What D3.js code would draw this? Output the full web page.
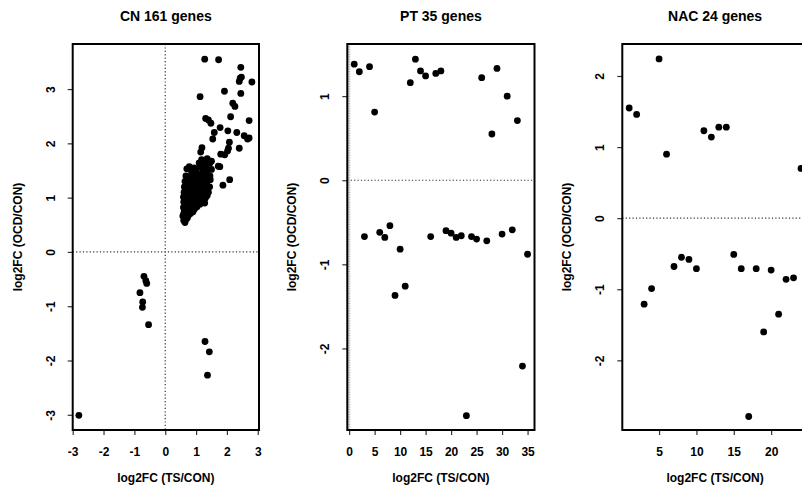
<!DOCTYPE html>
<html>
<head>
<meta charset="utf-8">
<script src="https://cdn.jsdelivr.net/npm/d3@7"></script>
<style>
  body { margin: 0; background: #fff; }
  text { font-family: "Liberation Sans", Arial, sans-serif; font-weight: bold; fill: #000; }
</style>
</head>
<body>
<script>
// CN: [log2FC TS/CON, log2FC OCD/CON]
var cnPoints = [
  [1.28,3.55],[1.73,3.54],[2.45,3.40],[2.43,3.20],[2.47,3.22],[2.40,3.14],[2.81,3.13],
  [1.92,2.96],[2.45,2.92],[1.13,2.86],[2.19,2.74],[2.26,2.68],[2.12,2.49],[2.72,2.42],
  [1.31,2.46],[1.40,2.43],[1.48,2.37],[1.78,2.29],[2.03,2.23],[2.32,2.20],[1.59,2.20],
  [1.54,2.08],[2.56,2.14],[2.67,2.08],[2.72,2.10],[2.08,2.02],[1.19,1.92],[2.05,1.91],
  [2.40,1.91],[1.15,1.84],[2.02,1.86],[1.80,1.80],[1.93,1.79],[1.40,1.68],[1.44,1.63],
  [1.77,1.57],[2.09,1.33],[1.87,1.23],
  [0.60,0.58],[0.64,0.54],[0.68,0.60],[0.62,0.64],[0.72,0.63],[0.57,0.66],
  [0.60,0.71],[0.65,0.68],[0.70,0.73],[0.76,0.68],[0.82,0.71],[0.62,0.76],[0.90,0.74],
  [0.59,0.82],[0.65,0.84],[0.71,0.79],[0.77,0.84],[0.83,0.80],[0.89,0.83],[0.95,0.79],[1.03,0.83],[0.68,0.88],
  [0.60,0.92],[0.66,0.95],[0.74,0.89],[0.80,0.93],[0.86,0.88],[0.93,0.92],[0.99,0.89],[1.06,0.93],[1.13,0.88],[1.20,0.92],[1.28,0.90],[0.71,0.97],
  [0.59,1.01],[0.64,1.04],[0.77,1.00],[0.84,1.03],[0.90,0.98],[0.97,1.04],[1.03,0.99],[1.09,1.03],[1.16,0.98],[1.23,1.03],[1.30,0.99],[1.36,1.04],
  [0.61,1.10],[0.68,1.08],[0.74,1.13],[0.81,1.07],[0.88,1.12],[0.95,1.08],[1.02,1.14],[1.08,1.09],[1.15,1.12],[1.22,1.07],[1.30,1.13],[1.40,1.10],
  [0.62,1.20],[0.70,1.18],[0.78,1.23],[0.86,1.19],[0.93,1.24],[1.00,1.20],[1.07,1.25],[1.13,1.19],[1.20,1.22],[1.28,1.18],[1.35,1.24],[1.44,1.20],
  [0.64,1.30],[0.72,1.28],[0.82,1.32],[0.90,1.28],[0.98,1.34],[1.05,1.30],[1.12,1.33],[1.18,1.28],[1.25,1.35],[1.34,1.30],[1.46,1.33],
  [0.67,1.40],[0.76,1.38],[0.86,1.42],[0.95,1.40],[1.03,1.44],[1.10,1.39],[1.17,1.43],[1.26,1.41],[1.34,1.46],[1.45,1.40],
  [0.70,1.53],[0.78,1.57],[0.84,1.50],[0.93,1.55],[1.00,1.51],[1.12,1.57],[1.22,1.50],[1.32,1.55],[1.50,1.52],
  [1.10,1.64],[1.18,1.70],[1.28,1.64],[1.36,1.72],[1.50,1.67],[1.72,1.58],
  [0.75,0.75],[0.85,0.95],[0.95,1.15],[1.05,1.05],[0.80,1.15],[1.10,1.22],
  [-0.69,-0.45],[-0.63,-0.53],[-0.60,-0.58],[-0.82,-0.75],[-0.73,-0.92],[-0.74,-1.02],
  [-0.54,-1.34],[1.29,-1.65],[1.43,-1.84],[1.37,-2.27],[-2.80,-3.01]
];

// PT and NAC: values in gene order (x = index)
var ptValues = [1.38,1.29,-0.67,1.35,0.81,-0.62,-0.68,-0.54,-1.37,-0.82,-1.26,1.16,1.44,1.30,1.24,
  -0.67,1.27,1.30,-0.60,-0.63,-0.68,-0.66,-2.80,-0.67,-0.70,1.22,-0.72,0.55,1.33,-0.64,
  1.00,-0.59,0.71,-2.21,-0.88];
var nacValues = [1.55,1.46,-1.21,-0.99,2.24,0.90,-0.68,-0.55,-0.58,-0.71,1.23,1.14,1.28,1.28,
  -0.51,-0.71,-2.79,-0.71,-1.60,-0.73,-1.35,-0.86,-0.84,0.70];

var titles = ["CN 161 genes", "PT 35 genes", "NAC 24 genes"];
var cnXTicks = [-3,-2,-1,0,1,2,3], cnYTicks = [-3,-2,-1,0,1,2,3];
var ptXTicks = [0,5,10,15,20,25,30,35], ptYTicks = [-2,-1,0,1];
var nacXTicks = [5,10,15,20], nacYTicks = [-2,-1,0,1,2];

var svg = d3.select("body").append("svg")
  .attr("width", 802).attr("height", 487);

var top0 = 44, bottom0 = 430;
var fmt = function(d) { return String(d); };

var panels = [
  { title: titles[0], left: 72.7, right: 259, xd: [-3.0, 3.04], yd: [-3.28, 3.83],
    pts: cnPoints, xt: cnXTicks, yt: cnYTicks, vline: true, rug: false },
  { title: titles[1], left: 347.3, right: 534.5, xd: [-0.36, 36.36], yd: [-2.97, 1.62],
    pts: ptValues.map(function(v, i) { return [i + 1, v]; }), xt: ptXTicks, yt: ptYTicks, vline: false, rug: true },
  { title: titles[2], left: 622.3, right: 807.9, xd: [0.08, 24.92], yd: [-2.98, 2.45],
    pts: nacValues.map(function(v, i) { return [i + 1, v]; }), xt: nacXTicks, yt: nacYTicks, vline: false, rug: false }
];

panels.forEach(function(p) {
  var x = d3.scaleLinear().domain(p.xd).range([p.left, p.right]);
  var y = d3.scaleLinear().domain(p.yd).range([bottom0, top0]);
  var g = svg.append("g");
  var cx = (p.left + p.right) / 2;

  // reference lines
  g.append("line")
    .attr("x1", p.left).attr("x2", p.right)
    .attr("y1", y(0)).attr("y2", y(0))
    .attr("stroke", "#333").attr("stroke-width", 1.2).attr("stroke-dasharray", "1.2,2.2");
  if (p.vline) {
    g.append("line")
      .attr("x1", x(0)).attr("x2", x(0))
      .attr("y1", top0).attr("y2", bottom0)
      .attr("stroke", "#333").attr("stroke-width", 1.2).attr("stroke-dasharray", "1.2,2.2");
  }

  // points
  g.selectAll("circle").data(p.pts).enter().append("circle")
    .attr("cx", function(d) { return x(d[0]); })
    .attr("cy", function(d) { return y(d[1]); })
    .attr("r", 3.4).attr("fill", "#000");

  // axes
  var xa = g.append("g").attr("transform", "translate(0," + bottom0 + ")")
    .call(d3.axisBottom(x).tickValues(p.xt).tickFormat(fmt).tickSize(5).tickPadding(12));
  xa.select(".domain").remove();
  xa.selectAll("text").style("font-size", "12px").style("font-family", null);

  var ya = g.append("g").attr("transform", "translate(" + p.left + ",0)")
    .call(d3.axisLeft(y).tickValues(p.yt).tickFormat(fmt).tickSize(5));
  ya.select(".domain").remove();
  ya.selectAll("text")
    .attr("x", 0).attr("y", 0).attr("dy", 0)
    .attr("text-anchor", "middle")
    .attr("transform", "translate(-18,0) rotate(-90)")
    .style("font-size", "12px").style("font-family", null);
  g.selectAll(".tick line").attr("stroke", "#333").attr("stroke-width", 1.2);

  if (p.rug) {
    var ra = g.append("g").attr("transform", "translate(" + p.left + ",0)")
      .call(d3.axisRight(y).ticks(150).tickSize(3).tickFormat(""));
    ra.select(".domain").remove();
    ra.selectAll("line").attr("stroke", "#777").attr("stroke-width", 0.5);
  }

  // box
  g.append("rect")
    .attr("x", p.left).attr("y", top0)
    .attr("width", p.right - p.left).attr("height", bottom0 - top0)
    .attr("fill", "none").attr("stroke", "#000").attr("stroke-width", 2);

  // labels
  g.append("text").attr("x", cx).attr("y", 21).attr("text-anchor", "middle")
    .style("font-size", "14px").text(p.title);
  g.append("text").attr("x", cx).attr("y", 482).attr("text-anchor", "middle")
    .style("font-size", "12px").text("log2FC (TS/CON)");
  g.append("text")
    .attr("transform", "translate(" + (p.left - 51) + "," + ((top0 + bottom0) / 2) + ") rotate(-90)")
    .attr("text-anchor", "middle")
    .style("font-size", "12px").text("log2FC (OCD/CON)");
});
</script>
</body>
</html>
